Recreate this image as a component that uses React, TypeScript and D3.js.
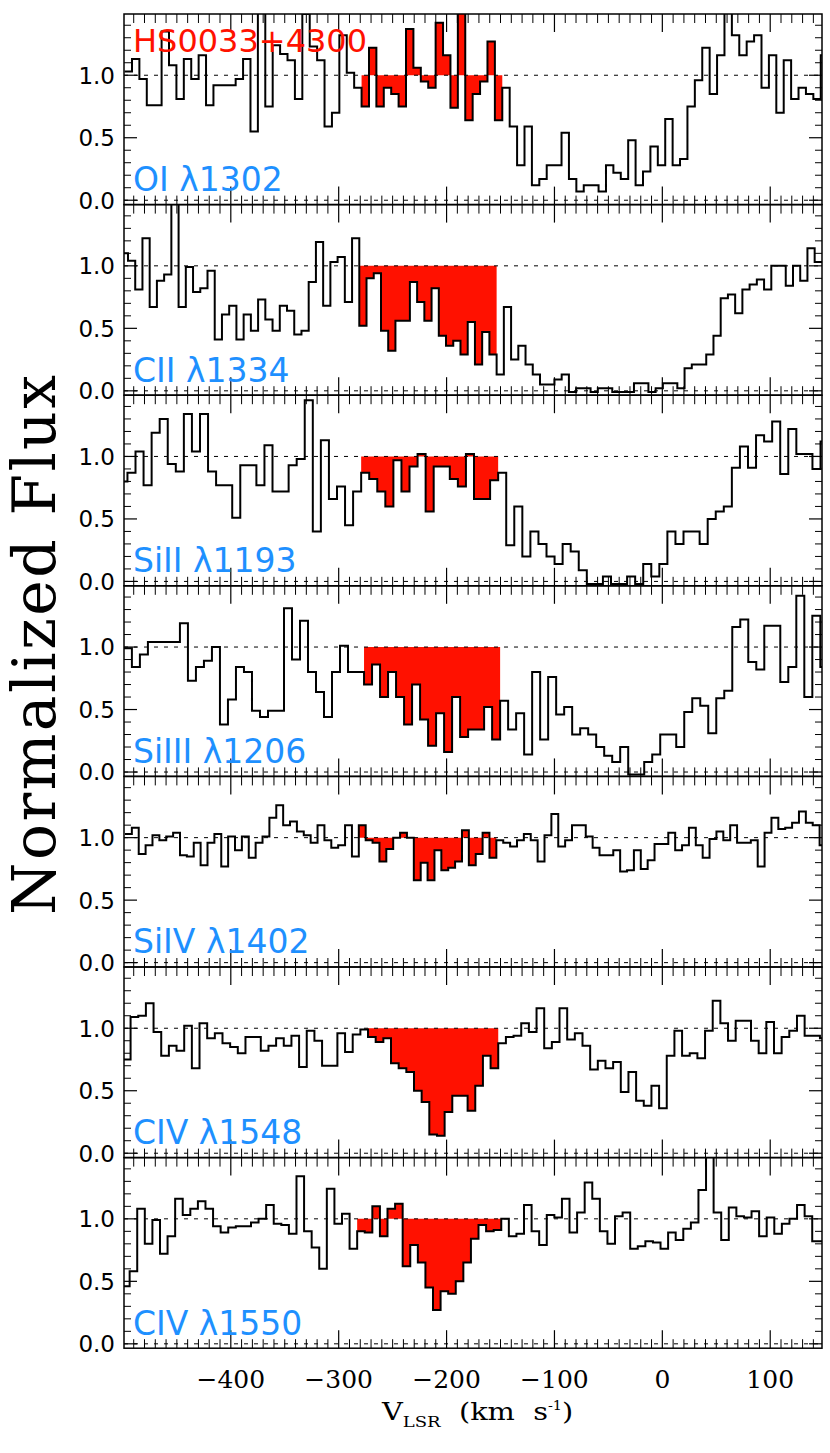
import React from 'react';
import * as d3 from 'd3';

// page + frame
const W = 830;
const H = 1453;
const X0 = 124;
const X1 = 822;
const TOP = 14;
const PH = 190.6;

const vDomain = [-499, 148];
const fDomain = [-0.035, 1.49];

const xTicks = [-400, -300, -200, -100, 0, 100];
const xTickLabels = ['\u2212400', '\u2212300', '\u2212200', '\u2212100', '0', '100'];
const yTicks = [0, 0.5, 1.0];
const yTickLabels = ['0.0', '0.5', '1.0'];

// one entry per panel, top to bottom
const ionLabels = ['OI \u03bb1302', 'CII \u03bb1334', 'SiII \u03bb1193', 'SiIII \u03bb1206', 'SiIV \u03bb1402', 'CIV \u03bb1548', 'CIV \u03bb1550'];
const binStart = [-498.47, -502.0, -503.27, -499.1, -498.1, -500.0, -500.8];
const binWidth = [6.865, 6.70, 7.47, 7.42, 6.375, 7.10, 7.03];
const redLo = [-278.8, -281.0, -279.2, -276.5, -281.4, -272.8, -282.9];
const redHi = [-148.3, -153.5, -152.2, -150.4, -153.9, -152.1, -149.3];

const fluxOI1302 = [1.03, 1.13, 0.97, 0.76, 0.76, 1.35, 1.08, 0.81, 1.13, 0.97, 1.16, 0.76, 0.92, 0.92, 0.92, 0.97, 1.13, 0.55, 1.60, 0.75, 1.24,
  1.17, 1.12, 0.81, 1.49, 1.23, 1.12, 0.59, 0.70, 1.32, 1.02, 0.90, 0.75, 1.22, 0.75, 0.90, 0.85, 0.75, 1.37, 1.06, 0.95,
  0.90, 1.42, 1.16, 0.74, 1.60, 0.64, 0.85, 0.95, 1.27, 0.64, 0.90, 0.59, 0.28, 0.59, 0.12, 0.17, 0.28, 0.28, 0.54, 0.17,
  0.07, 0.12, 0.12, 0.07, 0.28, 0.22, 0.17, 0.48, 0.12, 0.23, 0.43, 0.28, 0.65, 0.28, 0.33, 0.75, 0.96, 1.22, 0.85, 1.16,
  1.60, 1.32, 1.16, 1.27, 1.32, 0.90, 1.16, 0.70, 1.12, 0.81, 0.90, 0.85, 0.81, 1.16];
const fluxCII1334 = [1.10, 1.04, 0.81, 1.22, 0.67, 0.88, 0.93, 1.60, 0.67, 0.99, 0.79, 0.82, 0.96, 0.41, 0.61, 0.68, 0.41, 0.61, 0.48, 0.73, 0.57,
  0.48, 0.68, 0.64, 0.45, 0.48, 0.87, 1.19, 0.68, 1.03, 1.07, 0.71, 1.22, 0.52, 0.90, 0.94, 0.48, 0.32, 0.56, 0.56, 0.87,
  0.71, 0.56, 0.82, 0.44, 0.36, 0.40, 0.29, 0.55, 0.21, 0.47, 0.29, 0.13, 0.67, 0.25, 0.36, 0.21, 0.13, 0.05, 0.05, 0.09,
  0.13, -0.01, 0.02, 0.02, -0.01, 0.02, 0.02, -0.01, -0.01, -0.01, 0.06, 0.06, -0.01, 0.02, 0.06, 0.06, 0.02, 0.18, 0.21, 0.21,
  0.29, 0.44, 0.74, 0.77, 0.62, 0.81, 0.85, 0.89, 0.81, 1.00, 1.00, 0.84, 1.00, 0.88, 1.14, 1.03];
const fluxSiII1193 = [0.80, 0.87, 1.04, 0.77, 1.19, 1.30, 0.94, 0.88, 1.34, 1.04, 1.34, 0.88, 0.77, 0.77, 0.51, 0.93, 0.93, 0.77, 1.09, 0.72, 0.72, 0.93,
  0.98, 1.45, 0.40, 1.13, 0.66, 0.76, 0.45, 0.72, 0.87, 0.82, 0.72, 0.60, 0.97, 0.72, 0.92, 1.02, 0.56, 0.92, 0.92, 0.82,
  0.76, 1.02, 0.66, 0.66, 0.81, 0.87, 0.29, 0.60, 0.20, 0.40, 0.30, 0.20, 0.14, 0.30, 0.24, 0.09, -0.02, -0.02, 0.04, -0.02,
  -0.02, 0.04, -0.02, 0.14, 0.04, 0.14, 0.40, 0.30, 0.40, 0.40, 0.30, 0.50, 0.56, 0.60, 0.91, 1.08, 0.91, 1.17, 1.12, 1.28,
  0.86, 1.22, 1.02, 1.02, 0.90, 1.12];
const fluxSiIII1206 = [0.99, 0.84, 0.94, 1.04, 1.04, 1.04, 1.04, 1.19, 0.73, 0.84, 0.89, 1.00, 0.38, 0.58, 0.84, 0.80, 0.49, 0.44, 0.49, 0.49, 1.31,
  0.90, 1.21, 0.80, 0.64, 0.44, 0.80, 1.01, 0.80, 0.80, 0.70, 0.86, 0.60, 0.80, 0.60, 0.38, 0.70, 0.42, 0.21, 0.47, 0.16,
  0.60, 0.28, 0.34, 0.34, 0.52, 0.26, 0.57, 0.34, 0.47, 0.14, 0.80, 0.26, 0.76, 0.46, 0.52, 0.30, 0.35, 0.30, 0.20, 0.13,
  0.08, 0.20, -0.02, -0.02, 0.08, 0.14, 0.30, 0.30, 0.20, 0.48, 0.59, 0.53, 0.31, 0.59, 0.65, 1.16, 1.22, 0.88, 0.82, 1.17,
  1.17, 0.72, 0.84, 1.41, 0.60, 1.25, 0.84];
const fluxSiIV1402 = [1.03, 1.08, 0.87, 0.94, 1.02, 0.98, 1.01, 1.04, 0.86, 0.85, 0.96, 0.78, 0.96, 1.03, 0.77, 1.01, 0.90, 1.01, 0.84, 0.96, 1.01,
  1.16, 1.26, 1.10, 1.13, 1.05, 1.02, 0.96, 1.10, 0.98, 0.92, 0.94, 1.10, 0.85, 1.10, 0.98, 0.96, 0.81, 0.91, 1.00, 1.04,
  1.00, 0.66, 0.80, 0.66, 0.90, 0.74, 0.76, 0.81, 1.06, 0.78, 0.87, 1.04, 0.84, 0.98, 0.96, 0.93, 0.98, 1.03, 0.98, 0.81,
  1.02, 1.19, 0.93, 0.98, 1.10, 1.10, 1.01, 0.92, 0.86, 0.86, 0.90, 0.73, 0.74, 0.90, 0.75, 0.82, 0.95, 0.95, 1.04, 0.90,
  0.94, 1.08, 0.94, 0.84, 0.99, 1.05, 0.98, 1.10, 0.96, 0.96, 0.98, 0.77, 1.04, 1.16, 1.07, 1.08, 1.12, 1.21, 1.12, 1.10,
  0.94];
const fluxCIV1548 = [0.75, 1.09, 1.10, 1.20, 0.97, 0.78, 0.86, 0.82, 1.02, 0.68, 1.04, 0.92, 0.96, 0.88, 0.85, 0.80, 0.93, 0.93, 0.82, 0.86, 0.92,
  0.86, 0.94, 0.69, 0.98, 0.90, 0.70, 0.70, 0.96, 0.81, 0.95, 0.99, 0.93, 0.89, 0.92, 0.72, 0.68, 0.65, 0.50, 0.41, 0.15,
  0.14, 0.33, 0.46, 0.46, 0.34, 0.54, 0.78, 0.68, 0.88, 0.93, 0.94, 1.04, 0.97, 1.16, 0.84, 0.89, 1.16, 0.91, 0.96, 0.86,
  0.67, 0.74, 0.68, 0.73, 0.49, 0.65, 0.42, 0.38, 0.54, 0.36, 0.78, 0.98, 0.78, 0.80, 0.76, 0.98, 1.22, 1.04, 0.90, 1.06,
  1.06, 0.90, 0.80, 1.05, 0.80, 0.93, 0.98, 1.10, 0.94, 0.94, 0.92];
const fluxCIV1550 = [0.46, 0.58, 1.08, 0.80, 0.99, 0.72, 0.86, 1.16, 1.03, 1.08, 1.14, 1.08, 0.94, 0.89, 0.93, 0.94, 0.94, 0.97, 1.00, 1.11, 0.96,
  0.95, 0.88, 1.34, 0.90, 0.77, 0.60, 1.24, 0.96, 1.04, 0.76, 0.90, 0.89, 1.10, 0.86, 1.08, 1.12, 0.62, 0.79, 0.65, 0.45,
  0.27, 0.42, 0.40, 0.50, 0.65, 0.84, 0.95, 0.90, 0.91, 1.00, 0.86, 0.88, 1.11, 0.90, 0.79, 1.03, 1.01, 1.16, 0.89, 1.05,
  1.29, 1.16, 0.90, 0.80, 1.02, 1.05, 0.76, 0.78, 0.82, 0.81, 0.76, 0.89, 0.83, 0.92, 0.97, 1.23, 1.60, 1.05, 0.83, 1.09,
  1.02, 1.01, 1.06, 0.86, 1.01, 0.88, 0.96, 1.00, 1.11, 1.02, 0.82];

const fluxes = [fluxOI1302, fluxCII1334, fluxSiII1193, fluxSiIII1206, fluxSiIV1402, fluxCIV1548, fluxCIV1550];

const RED = '#ff1100';
const BLUE = '#1e90ff';
const SANS = '"DejaVu Sans", sans-serif';
const SERIF = '"DejaVu Serif", serif';

type Pt = [number, number];

// step points: value of bin i holds from its left edge to the next one
function stepPoints(v0: number, dv: number, f: number[], lo = -Infinity, hi = Infinity): Pt[] {
  const pts: Pt[] = [];
  let last = -1;
  f.forEach((val, i) => {
    const c = v0 + (i + 0.5) * dv;
    if (c < lo || c > hi) return;
    pts.push([v0 + i * dv, val]);
    last = i;
  });
  if (last >= 0) {
    let end = v0 + (last + 1) * dv;
    if (lo === -Infinity && end < vDomain[1]) end = vDomain[1];
    pts.push([end, f[last]]);
  }
  return pts;
}

export default function App() {
  const x = d3.scaleLinear().domain(vDomain).range([X0, X1]);
  const xMinor = d3.range(-490, 150, 10).filter((v) => !xTicks.includes(v));
  const yMinor = d3.range(1, 15).map((k) => k / 10).filter((v) => Math.abs(v - 0.5) > 1e-6 && Math.abs(v - 1) > 1e-6);

  return (
    <div style={{ position: 'absolute', left: 0, top: 0 }}>
      <svg width={W} height={H} viewBox={`0 0 ${W} ${H}`} style={{ display: 'block', background: '#fff' }}>
        <rect width={W} height={H} fill="#fff" />
        {fluxes.map((f, i) => {
          const top = TOP + i * PH;
          const y = d3.scaleLinear().domain(fDomain).range([top + PH, top]);
          const line = d3.line<Pt>().x((d) => x(d[0])).y((d) => y(d[1])).curve(d3.curveStepAfter);
          const area = d3.area<Pt>().x((d) => x(d[0])).y0(y(1)).y1((d) => y(d[1])).curve(d3.curveStepAfter);
          const all = stepPoints(binStart[i], binWidth[i], f);
          const red = stepPoints(binStart[i], binWidth[i], f, redLo[i], redHi[i]);
          const clipId = `clip${i}`;
          return (
            <g key={i}>
              <defs>
                <clipPath id={clipId}>
                  <rect x={X0} y={top} width={X1 - X0} height={PH} />
                </clipPath>
              </defs>
              <g clipPath={`url(#${clipId})`}>
                <path d={area(red) || ''} fill={RED} stroke="none" />
                <line x1={X0} x2={X1} y1={y(1)} y2={y(1)} stroke="#000" strokeWidth={1} strokeDasharray="4 6" />
                <line x1={X0} x2={X1} y1={y(0)} y2={y(0)} stroke="#000" strokeWidth={1} strokeDasharray="4 6" />
                <path d={line(all) || ''} fill="none" stroke="#000" strokeWidth={2} strokeLinejoin="miter" />
              </g>
              {/* x ticks, top and bottom, pointing inward */}
              {xTicks.map((v) => (
                <g key={`M${v}`} stroke="#000" strokeWidth={1.2}>
                  <line x1={x(v)} x2={x(v)} y1={top} y2={top + 18} />
                  <line x1={x(v)} x2={x(v)} y1={top + PH} y2={top + PH - 18} />
                </g>
              ))}
              {xMinor.map((v) => (
                <g key={`m${v}`} stroke="#000" strokeWidth={1}>
                  <line x1={x(v)} x2={x(v)} y1={top} y2={top + 9} />
                  <line x1={x(v)} x2={x(v)} y1={top + PH} y2={top + PH - 9} />
                </g>
              ))}
              {/* y ticks, left and right */}
              {yTicks.map((v) => (
                <g key={`Y${v}`} stroke="#000" strokeWidth={1.2}>
                  <line x1={X0} x2={X0 + 13} y1={y(v)} y2={y(v)} />
                  <line x1={X1} x2={X1 - 13} y1={y(v)} y2={y(v)} />
                </g>
              ))}
              {yMinor.map((v) => (
                <g key={`y${v}`} stroke="#000" strokeWidth={1}>
                  <line x1={X0} x2={X0 + 7} y1={y(v)} y2={y(v)} />
                  <line x1={X1} x2={X1 - 7} y1={y(v)} y2={y(v)} />
                </g>
              ))}
              <rect x={X0} y={top} width={X1 - X0} height={PH} fill="none" stroke="#000" strokeWidth={1.5} />
              {yTicks.map((v, k) => (
                <text key={`yl${v}`} x={115} y={y(v) + 8.4} textAnchor="end" fontFamily={SANS} fontSize={23} fill="#000">
                  {yTickLabels[k]}
                </text>
              ))}
              <text x={133} y={top + 177} fontFamily={SANS} fontSize={33} fill={BLUE}>
                {ionLabels[i]}
              </text>
              {i === 0 && (
                <text x={133} y={top + 37.7} fontFamily={SANS} fontSize={32} fill={RED}>
                  HS0033+4300
                </text>
              )}
            </g>
          );
        })}
        {xTicks.map((v, k) => (
          <text key={`xl${v}`} x={x(v)} y={1388} textAnchor="middle" fontFamily={SERIF} fontSize={25} fill="#000">
            {xTickLabels[k]}
          </text>
        ))}
        <text transform="translate(382,1420) scale(1.2,1)" fontFamily={SERIF} fontSize={24} fill="#000">
          V<tspan dy={7} fontSize={15}>LSR</tspan>
          <tspan dy={-7}>{'\u00a0\u00a0(km\u00a0\u00a0s'}</tspan>
          <tspan dy={-10} fontSize={12}>-1</tspan>
          <tspan dy={10}>)</tspan>
        </text>
        <text
          transform="translate(55,645) rotate(-90)"
          textAnchor="middle"
          fontFamily={SERIF}
          fontSize={60}
          textLength={540}
          lengthAdjust="spacing"
          fill="#000"
        >
          Normalized Flux
        </text>
      </svg>
    </div>
  );
}
